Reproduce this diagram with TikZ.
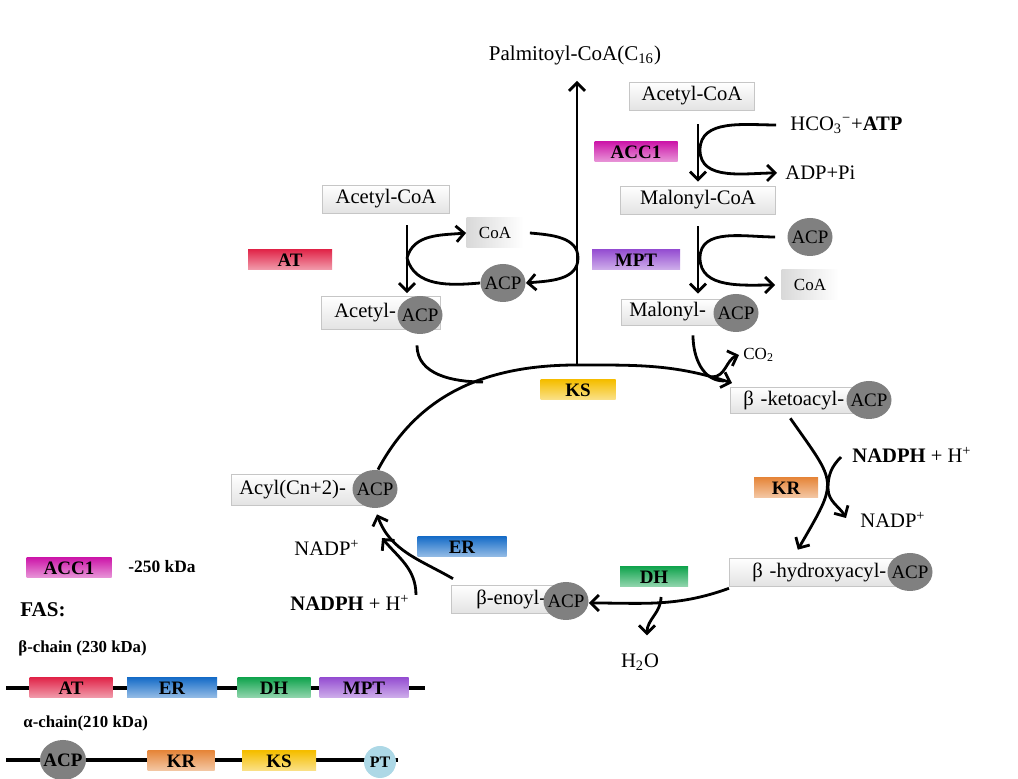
\documentclass[tikz,border=0pt]{standalone}
\usepackage{fontspec}
\setmainfont{Liberation Serif}
\usetikzlibrary{arrows.meta,shapes.geometric}

\definecolor{accmag}{RGB}{205,25,170}
\definecolor{atred}{RGB}{225,40,75}
\definecolor{mptvio}{RGB}{150,80,210}
\definecolor{ksyel}{RGB}{245,190,0}
\definecolor{krora}{RGB}{230,135,60}
\definecolor{erblu}{RGB}{25,110,200}
\definecolor{dhgrn}{RGB}{20,165,80}
\definecolor{ptblu}{RGB}{173,216,230}
\definecolor{acpgry}{RGB}{128,128,128}

\begin{document}
\begin{tikzpicture}[x=0.5pt,y=-0.5pt,>={Straight Barb[length=4pt,width=8pt]},
  sub/.style={rectangle,top color=white,bottom color=gray!22,draw=gray!45,line width=0.3pt,
    inner xsep=4pt,inner ysep=0pt,minimum height=14pt,font=\fontsize{10.3}{12}\selectfont},
  coab/.style={rectangle,left color=gray!30,right color=white,inner sep=0pt,
    minimum width=28.5pt,minimum height=15pt,font=\fontsize{8.5}{10}\selectfont},
  acp/.style={ellipse,fill=acpgry,inner xsep=-2.5pt,inner ysep=0pt,minimum width=22.5pt,
    minimum height=19pt,font=\fontsize{9.5}{10}\selectfont},
  enz/.style={rectangle,top color=#1,bottom color=#1!45!white,inner sep=0pt,
    minimum height=10pt,font=\bfseries\fontsize{9.5}{10}\selectfont},
  lab/.style={inner sep=1pt,font=\fontsize{10.3}{12}\selectfont},
  flow/.style={->,line width=1.4pt},
  bond/.style={line width=1.4pt},
  strand/.style={line width=2pt}]
\useasboundingbox (0,0) rectangle (1018,779);

% ACC1: acetyl-CoA -> malonyl-CoA
\node[sub,minimum width=62.5pt] (ac2) at (692,96) {Acetyl-CoA};
\node[enz=accmag,minimum width=41.5pt] (acc) at (636,152) {ACC1};
\node[sub,minimum width=77.5pt] (malcoa) at (698,200) {Malonyl-CoA};
\node[lab,anchor=west] (hco) at (788,125) {HCO\textsubscript{3}\textsuperscript{−}+\textbf{ATP}};
\node[lab,anchor=west] (adp) at (783,173) {ADP+Pi};
\coordinate (accbend) at (700,150);
\draw[flow] ([xshift=3pt,yshift=-7pt]ac2.south) -- ([yshift=2pt]malcoa.north);
\draw[bond] ([xshift=-6pt]hco.west) to[out=180,in=90] (accbend);
\draw[flow] (accbend) to[out=-90,in=180] ([xshift=-3pt]adp.west);

% MPT: malonyl-CoA -> malonyl-ACP
\node[acp] (acpf) at (810,237) {ACP};
\node[enz=mptvio,minimum width=44pt] (mpt) at (636,260) {MPT};
\node[coab] (coa2) at (810,285) {CoA};
\node[sub,anchor=west,text width=56.5pt,align=left,minimum height=13pt] (malacp) at (621,312) {Malonyl-};
\node[acp] (malacpc) at (736,313) {ACP};
\coordinate (mptbend) at (700,258);
\draw[flow] ([yshift=-6pt]malcoa.south) -- ([yshift=2.5pt]malcoa.south |- malacp.north);
\draw[bond] ([xshift=-6pt]acpf.west) to[out=180,in=90] (mptbend);
\draw[flow] (mptbend) to[out=-90,in=180] ([xshift=-3pt]coa2.west);

% AT: acetyl-CoA -> acetyl-ACP
\node[sub,minimum width=63.5pt] (ac1) at (386,199) {Acetyl-CoA};
\node[enz=atred,minimum width=42pt] (at) at (290,260) {AT};
\node[coab] (coa1) at (495,233) {CoA};
\node[acp] (acpa) at (503,283) {ACP};
\node[sub,anchor=west,text width=51.5pt,align=left,minimum height=16.5pt] (acacp) at (321,313) {\hspace*{2.5pt}Acetyl-};
\node[acp] (acacpc) at (420,315) {ACP};
\coordinate (atL) at (407,258);
\coordinate (atR) at (578,258);
\draw[flow] ([xshift=10.5pt,yshift=-6pt]ac1.south) -- ([xshift=10.5pt,yshift=1.5pt]ac1.south |- acacp.north);
\draw[flow] (atL) to[out=75,in=185] (coa1.west);
\draw[bond] ([xshift=3pt]coa1.east) to[out=-5,in=90] (atR);
\draw[flow] (atR) to[out=-90,in=5] (acpa.east);
\draw[bond] (acpa.west) to[out=185,in=-75] (atL);

% condensation (KS) and product
\node[lab,font=\fontsize{10.5}{12}\selectfont] (palm) at (575,55) {Palmitoyl-CoA(C\textsubscript{16})};
\node[enz=ksyel,minimum width=37.5pt] (ks) at (578,390) {KS};
\node[sub,anchor=west,text width=57pt,align=left,minimum height=13pt] (ket) at (730,400) {\hspace*{2.5pt}β -ketoacyl-};
\node[acp] (ketc) at (869,400) {ACP};
\node[lab,anchor=west,font=\fontsize{8.5}{10}\selectfont] (co2) at (741,355) {CO\textsubscript{2}};
\coordinate (cyctop) at (577,365);
\coordinate (join1) at (483,382);
\coordinate (join2) at (724,381);
\coordinate (co2start) at (712,377);
\draw[bond] ([xshift=-1.5pt,yshift=-5.5pt]acacpc.south) to[out=-90,in=180] (join1);
\draw[bond] ([xshift=-21.5pt,yshift=-1.5pt]malacpc.south) to[out=-90,in=180] (join2);
\draw[flow] (co2start) to[out=0,in=200] ([xshift=-1pt]co2.west);
\draw[flow] (cyctop) -- ([yshift=-7pt]cyctop |- palm.south);

% KR
\node[lab,anchor=west] (nadph1) at (850,455) {\textbf{NADPH} + H\textsuperscript{+}};
\node[enz=krora,minimum width=32pt] (kr) at (786,488) {KR};
\node[lab,anchor=west] (nadp1) at (858,520) {NADP\textsuperscript{+}};
\node[sub,anchor=west,text width=77.5pt,align=left] (hyd) at (729,572) {\hspace*{7.5pt}β -hydroxyacyl-};
\node[acp] (hydc) at (910,572) {ACP};
\coordinate (krbend) at (828,488);
\draw[flow] ([xshift=-2.5pt,yshift=-2.5pt]ket.south) to[out=-55,in=60,looseness=1.6] ([xshift=-8.5pt,yshift=4pt]hyd.north);
\draw[bond] ([xshift=-4.5pt,yshift=-1pt]nadph1.west) to[out=-135,in=90] (krbend);
\draw[flow] (krbend) to[out=-90,in=120] ([xshift=-6pt,yshift=1pt]nadp1.west);

% DH
\node[enz=dhgrn,minimum width=34pt] (dh) at (654,577) {DH};
\node[lab] (h2o) at (640,662) {H\textsubscript{2}O};
\node[sub,anchor=west,text width=54pt,align=left] (eno) at (451,599) {\hspace*{8.5pt}β-enoyl-};
\node[acp] (enoc) at (566,601) {ACP};
\coordinate (dhbr) at (661,597);
\draw[flow] ([yshift=-1pt]hyd.south west) to[out=200,in=0] ([yshift=-1pt]enoc.east);
\draw[flow] (dhbr) to[out=-90,in=90] ([xshift=3.5pt,yshift=8pt]h2o.north);

% ER
\node[sub,anchor=west,text width=66.5pt,align=left,minimum height=15.5pt] (acyl) at (231,490) {Acyl(Cn+2)-};
\node[acp] (acylc) at (375,489) {ACP};
\node[enz=erblu,minimum width=44.5pt] (er) at (462,547) {ER};
\node[lab] (nadp2) at (327,548) {NADP\textsuperscript{+}};
\node[lab] (nadph2) at (350,603) {\textbf{NADPH} + H\textsuperscript{+}};
\draw[flow] ([xshift=1pt,yshift=3pt]eno.north west) to[out=150,in=-70] ([xshift=1pt,yshift=-3pt]acylc.south);
\draw[flow] ([xshift=2pt,yshift=-1pt]nadph2.north east) to[out=90,in=-50] ([xshift=10pt,yshift=5pt]nadp2.east);

% cycle arc back to beta-ketoacyl
\draw[bond] ([xshift=1.5pt]acylc.north) to[out=62,in=180] (cyctop);
\draw[flow] (cyctop) to[out=0,in=162] ([xshift=1pt,yshift=8.5pt]ket.west);

% legend
\node[enz=accmag,minimum width=42.5pt] (accl) at (69,568) {ACC1};
\node[lab,anchor=west,font=\bfseries\fontsize{8.7}{10}\selectfont] (kda) at (126,567) {-250 kDa};
\node[lab,anchor=west,font=\bfseries\fontsize{10.5}{12}\selectfont] (fas) at (18,610) {FAS:};
\node[lab,anchor=west,font=\bfseries\fontsize{8.4}{10}\selectfont] (beta) at (16,648) {β-chain (230 kDa)};
\node[lab,anchor=west,font=\bfseries\fontsize{8.4}{10}\selectfont] (alpha) at (21,723) {α-chain(210 kDa)};
\coordinate (b0) at (6,688);
\coordinate (b1) at (425,688);
\coordinate (a0) at (6,760);
\coordinate (a1) at (398,760);
\draw[strand] (b0) -- (b1);
\draw[strand] (a0) -- (a1);
\node[enz=atred,minimum width=41.5pt] (atl) at (71,688) {AT};
\node[enz=erblu,minimum width=45pt] (erl) at (172,688) {ER};
\node[enz=dhgrn,minimum width=36.5pt] (dhl) at (274,688) {DH};
\node[enz=mptvio,minimum width=44.5pt] (mptl) at (364,688) {MPT};
\node[acp,minimum width=23pt,minimum height=20pt,font=\bfseries\fontsize{9.5}{10}\selectfont] (acpl) at (63,760) {ACP};
\node[enz=krora,minimum width=33.5pt] (krl) at (181,761) {KR};
\node[enz=ksyel,minimum width=37pt] (ksl) at (279,761) {KS};
\node[circle,fill=ptblu,inner sep=0pt,minimum size=16pt,font=\bfseries\fontsize{8}{10}\selectfont] (ptl) at (380,762) {PT};
\end{tikzpicture}
\end{document}
